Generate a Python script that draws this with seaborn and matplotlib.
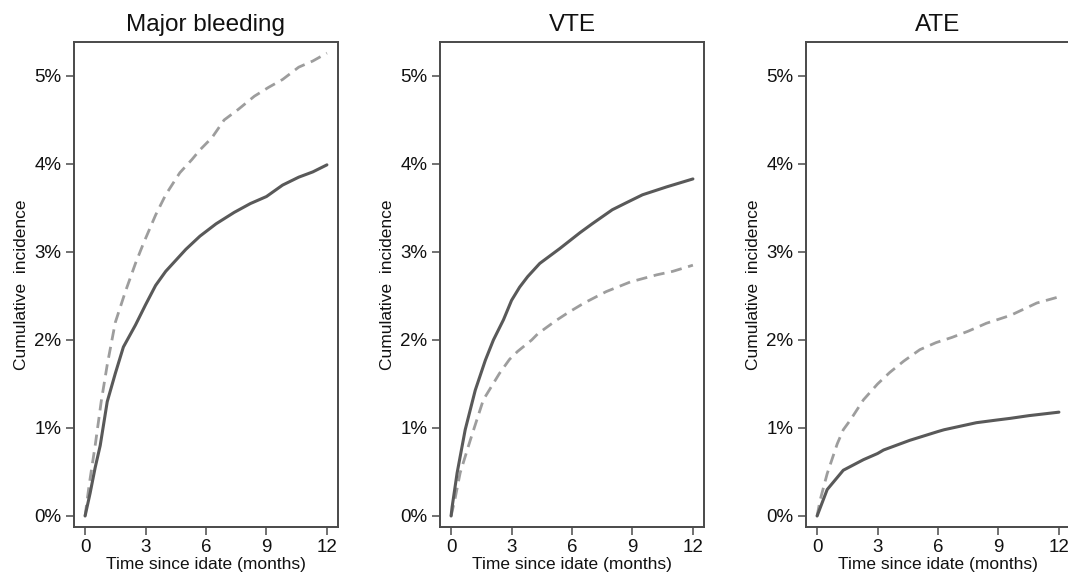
import numpy as np
import pandas as pd
import matplotlib
matplotlib.use("Agg")
from matplotlib import pyplot as plt
from matplotlib.ticker import FuncFormatter
import seaborn as sns

# panel titles
titles = ["Major bleeding", "VTE", "ATE"]

# Major bleeding (values in %)
mb_solid_t = [0, 0.25, 0.5, 0.75, 1.1, 1.5, 1.9, 2.5, 3.0, 3.5, 4.0, 5.0, 5.7, 6.5, 7.4, 8.2, 9.0, 9.8, 10.6, 11.3, 12.0]
mb_solid_v = [0, 0.26, 0.55, 0.8, 1.3, 1.62, 1.92, 2.17, 2.4, 2.62, 2.78, 3.03, 3.18, 3.32, 3.45, 3.55, 3.63, 3.76, 3.85, 3.91, 3.99]
mb_dash_t = [0, 0.2, 0.5, 0.8, 1.1, 1.5, 2.0, 2.5, 2.9, 3.5, 4.0, 4.7, 5.3, 5.7, 6.3, 6.9, 7.6, 8.4, 9.1, 9.8, 10.6, 11.3, 12.0]
mb_dash_v = [0, 0.35, 0.8, 1.3, 1.72, 2.2, 2.55, 2.87, 3.1, 3.42, 3.65, 3.9, 4.05, 4.16, 4.3, 4.5, 4.62, 4.77, 4.87, 4.96, 5.1, 5.17, 5.26]

# VTE
vte_solid_t = [0, 0.05, 0.3, 0.7, 1.2, 1.7, 2.1, 2.6, 3.0, 3.4, 3.8, 4.4, 5.4, 6.4, 7.0, 8.0, 8.7, 9.5, 10.7, 12.0]
vte_solid_v = [0, 0.1, 0.49, 0.98, 1.43, 1.77, 2.0, 2.23, 2.45, 2.6, 2.72, 2.87, 3.04, 3.22, 3.32, 3.48, 3.56, 3.65, 3.74, 3.83]
vte_dash_t = [0, 0.2, 0.45, 0.95, 1.6, 2.4, 2.9, 3.3, 4.0, 4.3, 5.2, 5.8, 6.6, 7.7, 8.9, 10.2, 11.0, 12.0]
vte_dash_v = [0, 0.2, 0.49, 0.86, 1.32, 1.62, 1.78, 1.87, 2.0, 2.07, 2.22, 2.31, 2.42, 2.55, 2.66, 2.74, 2.78, 2.85]

# ATE
ate_solid_t = [0, 0.05, 0.5, 1.3, 2.3, 3.0, 3.3, 4.6, 6.0, 6.3, 7.9, 8.9, 9.6, 10.5, 12.0]
ate_solid_v = [0, 0.03, 0.3, 0.52, 0.64, 0.71, 0.75, 0.86, 0.96, 0.98, 1.06, 1.09, 1.11, 1.14, 1.18]
ate_dash_t = [0, 0.15, 0.5, 1.0, 1.3, 1.65, 2.3, 3.0, 3.6, 4.3, 5.1, 5.9, 6.7, 7.5, 8.4, 9.6, 10.9, 12.0]
ate_dash_v = [0, 0.18, 0.48, 0.82, 0.98, 1.09, 1.32, 1.5, 1.63, 1.76, 1.89, 1.97, 2.03, 2.1, 2.19, 2.28, 2.42, 2.49]

x_ticks = [0, 3, 6, 9, 12]
y_ticks = [0, 1, 2, 3, 4, 5]

panels = [
    (mb_solid_t, mb_solid_v, mb_dash_t, mb_dash_v),
    (vte_solid_t, vte_solid_v, vte_dash_t, vte_dash_v),
    (ate_solid_t, ate_solid_v, ate_dash_t, ate_dash_v),
]

sns.set_style("white")
plt.rcParams['font.family'] = ['Liberation Sans', 'DejaVu Sans']
plt.rcParams['text.color'] = '#111111'
plt.rcParams['axes.labelcolor'] = '#111111'

edge = "#4a4a4a"
fig = plt.figure(figsize=(10.68, 5.75), dpi=100)
lefts = [74, 440, 806]

for i, (st, sv, dt, dv) in enumerate(panels):
    ax = fig.add_axes([lefts[i] / 1068, 48 / 575, 264 / 1068, 485 / 575])
    sns.lineplot(x=dt, y=dv, ax=ax, color="#9d9d9d", linewidth=2.0, sort=False)
    ax.lines[-1].set_dashes((4, 2.4))
    sns.lineplot(x=st, y=sv, ax=ax, color="#595959", linewidth=2.2, sort=False)
    ax.set_xlim(-0.55, 12.55)
    ax.set_ylim(-0.125, 5.386)
    ax.set_xticks(x_ticks)
    ax.set_yticks(y_ticks)
    ax.yaxis.set_major_formatter(FuncFormatter(lambda v, p: f"{int(v)}%"))
    for s in ax.spines.values():
        s.set_visible(True)
        s.set_color(edge)
        s.set_linewidth(1.4)
    ax.tick_params(axis="both", direction="out", length=6, width=1.1,
                   color=edge, labelcolor="#111111", labelsize=13.5, pad=3,
                   left=True, bottom=True)
    ax.set_title(titles[i], fontsize=17.5, pad=8)
    ax.set_xlabel("Time since idate (months)", fontsize=12.5, labelpad=0)
    ax.set_ylabel("Cumulative  incidence", fontsize=12.5)
    ax.yaxis.set_label_coords(-0.17, 0.5)

fig.savefig("out.png", dpi=100, facecolor="white")
